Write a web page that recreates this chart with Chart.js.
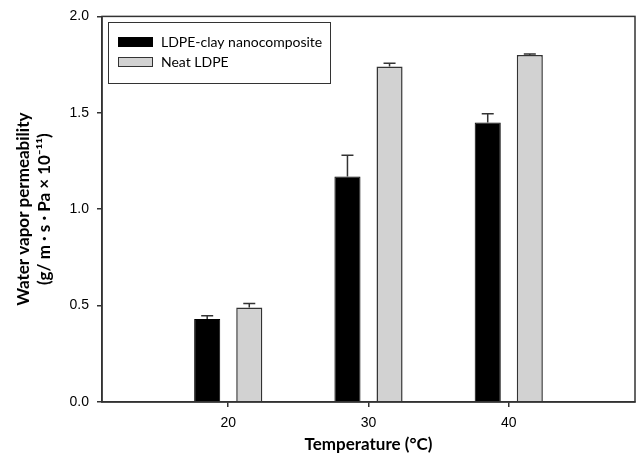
<!DOCTYPE html>
<html>
<head>
<meta charset="utf-8">
<script src="https://cdn.jsdelivr.net/npm/chart.js@4"></script>
<style>
  html, body { margin: 0; padding: 0; background: #fff; }
  #wrap { width: 639px; height: 459px; }
</style>
</head>
<body>
<div id="wrap"><canvas id="c"></canvas></div>
<script>
// Water vapor permeability vs temperature
const temps = [20, 30, 40];
const xTicks = [20, 30, 40];
const yTicks = [0, 0.5, 1.0, 1.5, 2.0];
const seriesNames = ["LDPE-clay nanocomposite", "Neat LDPE"];
const nanoVals = [0.43, 1.17, 1.45];
const nanoErr = [0.017, 0.11, 0.045];
const neatVals = [0.49, 1.74, 1.80];
const neatErr = [0.021, 0.017, 0.005];

const BLACK = "#000000";
const GREY = "#d2d2d2";
const EDGE = "#333333";

const toPts = vals => temps.map((t, i) => ({ x: t, y: vals[i] }));

// upward-only error bars with caps
const errorBars = {
  id: "errorBars",
  afterDatasetsDraw(chart){
    const ctx = chart.ctx;
    const ys = chart.scales.y;
    chart.data.datasets.forEach((ds, di) => {
      const meta = chart.getDatasetMeta(di);
      meta.data.forEach((bar, i) => {
        const top = ys.getPixelForValue(ds.data[i].y + ds.errors[i]);
        ctx.save();
        ctx.strokeStyle = EDGE;
        ctx.lineWidth = 1.5;
        ctx.beginPath();
        ctx.moveTo(bar.x, bar.y);
        ctx.lineTo(bar.x, top);
        ctx.moveTo(bar.x - 6, top);
        ctx.lineTo(bar.x + 6, top);
        ctx.stroke();
        ctx.restore();
      });
    });
  }
};

// frame round the plot + boxed legend in the top-left corner
const frameLegend = {
  id: "frameLegend",
  afterDraw(chart){
    const ctx = chart.ctx;
    const a = chart.chartArea;
    ctx.save();
    ctx.strokeStyle = EDGE;
    ctx.lineWidth = 1.5;
    ctx.strokeRect(a.left, a.top, a.right - a.left, a.bottom - a.top);

    ctx.lineWidth = 1;
    ctx.strokeRect(108.5, 22.5, 222, 61);
    const fills = [BLACK, GREY];
    const rows = [37, 57];
    ctx.font = "14px Lato";
    ctx.textBaseline = "middle";
    seriesNames.forEach((name, i) => {
      ctx.fillStyle = fills[i];
      ctx.fillRect(118, rows[i], 35, 10);
      ctx.strokeStyle = i ? EDGE : BLACK;
      ctx.strokeRect(118.5, rows[i] + 0.5, 34, 9);
      ctx.fillStyle = "#000";
      ctx.fillText(name, 161, rows[i] + 5);
    });
    ctx.restore();
  }
};

new Chart(document.getElementById("c"), {
  type: "bar",
  data: {
    datasets: [
      { label: seriesNames[0], data: toPts(nanoVals), errors: nanoErr,
        backgroundColor: BLACK, borderColor: BLACK, borderWidth: 1 },
      { label: seriesNames[1], data: toPts(neatVals), errors: neatErr,
        backgroundColor: GREY, borderColor: EDGE, borderWidth: 1.5 }
    ]
  },
  options: {
    responsive: true,
    maintainAspectRatio: false,
    animation: false,
    categoryPercentage: 0.6,
    barPercentage: 0.62,
    layout: { padding: { top: 16, right: 4, left: 0, bottom: 0 } },
    plugins: { legend: { display: false }, tooltip: { enabled: false } },
    scales: {
      x: {
        type: "linear",
        min: 11, max: 49,
        offset: false,
        afterBuildTicks: s => { s.ticks = xTicks.map(v => ({ value: v })); },
        afterFit: s => { s.height = 57; },
        grid: { offset: false, drawOnChartArea: false, drawTicks: true, tickLength: 5, color: EDGE, lineWidth: 1.5 },
        border: { display: true, color: EDGE, width: 1.5 },
        ticks: { color: "#000", padding: 8, font: { family: "Liberation Sans", size: 14 } },
        title: { display: true, text: "Temperature (°C)", color: "#000",
                 padding: { top: 4, bottom: 4 }, font: { family: "Lato", size: 17, weight: "bold" } }
      },
      y: {
        min: 0, max: 2,
        afterBuildTicks: s => { s.ticks = yTicks.map(v => ({ value: v })); },
        afterFit: s => { s.width = 102; },
        grid: { drawOnChartArea: false, drawTicks: true, tickLength: 5, color: EDGE, lineWidth: 1.5 },
        border: { display: true, color: EDGE, width: 1.5 },
        ticks: { color: "#000", padding: 8, font: { family: "Liberation Sans", size: 14 },
                 callback: v => Number(v).toFixed(1) },
        title: { display: true, text: ["Water vapor permeability", "(g/ m · s · Pa × 10⁻¹¹)"], color: "#000",
                 padding: { top: 13 }, font: { family: "Lato", size: 17, weight: "bold", lineHeight: 1.25 } }
      }
    }
  },
  plugins: [errorBars, frameLegend]
});
</script>
</body>
</html>
